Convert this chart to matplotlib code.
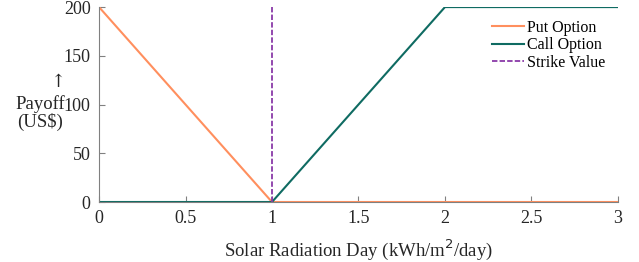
import matplotlib
matplotlib.use('Agg')
import matplotlib.pyplot as plt

plt.rcParams['font.family'] = ['Liberation Serif', 'DejaVu Serif']

# data
put_x = [0, 1, 3]
put_y = [200, 0, 0]
call_x = [0, 1, 2, 3]
call_y = [0, 0, 200, 200]
strike_x = [1, 1]
strike_y = [0, 200]
xticks = [0, 0.5, 1, 1.5, 2, 2.5, 3]
xticklabels = ['0', '0.5', '1', '1.5', '2', '2.5', '3']
yticks = [0, 50, 100, 150, 200]

W, H = 639, 262
fig = plt.figure(figsize=(W / 100, H / 100), dpi=100)
ax = fig.add_axes([0.155, 0.229, 0.812, 0.744])

ax.plot(put_x, put_y, color='#FF8F5E', lw=1.5, label='Put Option')
ax.plot(call_x, call_y, color='#0F6B62', lw=1.5, label='Call Option')
ax.plot(strike_x, strike_y, color='#8A3AA8', lw=1.3, ls=(0, (3, 1.2)), label='Strike Value')

ax.set_xlim(0, 3)
ax.set_ylim(0, 200)
ax.set_xticks(xticks)
ax.set_xticklabels(xticklabels)
ax.set_yticks(yticks)
ax.tick_params(direction='in', length=4, color='#808080', labelsize=13,
               labelcolor='#262626', pad=6)
for s in ['top', 'right']:
    ax.spines[s].set_visible(False)
for s in ['left', 'bottom']:
    ax.spines[s].set_color('#808080')

ax.set_xlabel('Solar Radiation Day (kWh/m$^2$/day)', fontsize=13.5, color='#262626',
              labelpad=7)
# y label placed by hand, arrow a bit right of centre like the original
fig.text(40 / W, 1 - 113 / H, 'Payoff\n(US$)', fontsize=13.5, color='#262626',
         ha='center', va='center', linespacing=1.05)
fig.text(58 / W, 1 - 82 / H, '\u2191', fontsize=13, color='#262626',
         ha='center', va='center', family=['DejaVu Serif'])

ax.legend(loc='upper right', frameon=False, fontsize=11.5, handlelength=2.0,
          handletextpad=0.2, labelspacing=0.1, borderaxespad=0.4)

fig.savefig('out.png', dpi=100)
